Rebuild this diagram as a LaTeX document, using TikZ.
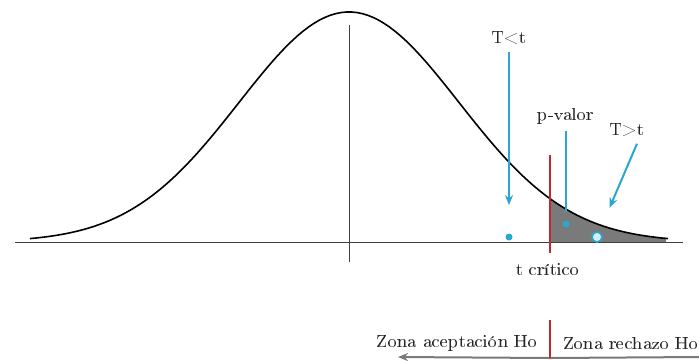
\documentclass[tikz,border=0pt]{standalone}
\usepackage[T1]{fontenc}
\usepackage{tikz}
\usetikzlibrary{positioning, arrows.meta, calc}
\definecolor{pcyan}{HTML}{2AA6CF}
\definecolor{pred}{HTML}{C4262E}
\definecolor{pgray}{HTML}{7A7A7A}

\begin{document}
\begin{tikzpicture}[x=0.5pt, y=-0.5pt,
                txt/.style={font=\fontsize{9}{11}\selectfont, text=black!85},
                ztxt/.style={font=\fontsize{8.7}{11}\selectfont, text=black!85, inner sep=1pt},
                curve/.style={draw=black, line width=0.8pt},
                axisline/.style={draw=black!75, line width=0.5pt},
                critline/.style={draw=pred, line width=1.4pt},
                hint/.style={draw=pcyan, line width=1pt},
                hintarrow/.style={hint, -{Stealth[length=5pt, width=4pt]}},
                dot/.style={circle, fill=pcyan, inner sep=0pt, minimum size=3.5pt},
                ring/.style={circle, draw=pcyan, line width=0.8pt, fill=pcyan!20, inner sep=0pt, minimum size=5pt},
                zone/.style={draw=pgray, line width=1pt}
            ]
            \useasboundingbox (0,0) rectangle (699,360);

            % Flaeche und Kurve
            \fill[pgray] (550,242) -- plot[domain=550:666, samples=40] (\x, {242-230*exp(-((\x-349)/110)^2/2)}) -- (666,242) -- cycle;
            \draw[curve] plot[domain=30:668, samples=120] (\x, {242-230*exp(-((\x-349)/110)^2/2)});

            % Achsen
            \coordinate (xl) at (15,242);
            \coordinate (xr) at (683,242);
            \coordinate (mt) at (349,25);
            \coordinate (mb) at (349,262);
            \draw[axisline] (xl) -- (xr);
            \draw[axisline, line width=0.4pt] (mt) -- (mb);

            % Knoten
            \node[txt] (tless) at (509,38) {T\textless t};
            \node[txt] (pval) at (566,116) {p-valor};
            \node[txt] (tgreat) at (627,130) {T\textgreater t};
            \node[txt] (tcrit) at (548,270) {t crítico};
            \node[dot] (ldot) at (509,237) {};
            \node[dot] (pdot) at (566,224) {};
            \node[ring] (rdot) at (597,237) {};
            \coordinate (ct) at (550,155);
            \coordinate (cb) at (550,253);

            % Kanten zwischen Knoten
            \draw[critline] (ct) -- (cb);
            \draw[hintarrow, shorten >=14pt] (tless) -- (ldot);
            \draw[hint, shorten >=4pt] (pval) -- (pdot);
            \draw[hintarrow, shorten >=13pt] ([xshift=5pt]tgreat.south) -- (rdot);

            % Zonen
            \node[ztxt, anchor=east] (acc) at (540,343) {Zona aceptación Ho};
            \node[ztxt, anchor=west] (rej) at (561,343) {Zona rechazo Ho};
            \coordinate (zt) at (550,320);
            \coordinate (zm) at (550,358);
            \coordinate (zl) at (398,357);
            \coordinate (zr) at (699,357);
            \draw[zone, -{Stealth[length=5pt, width=4pt]}] (zm) -- (zl);
            \draw[zone] (zm) -- (zr);
            \draw[critline, line width=1.2pt] (zt) -- (zm);

        \end{tikzpicture}
\end{document}
